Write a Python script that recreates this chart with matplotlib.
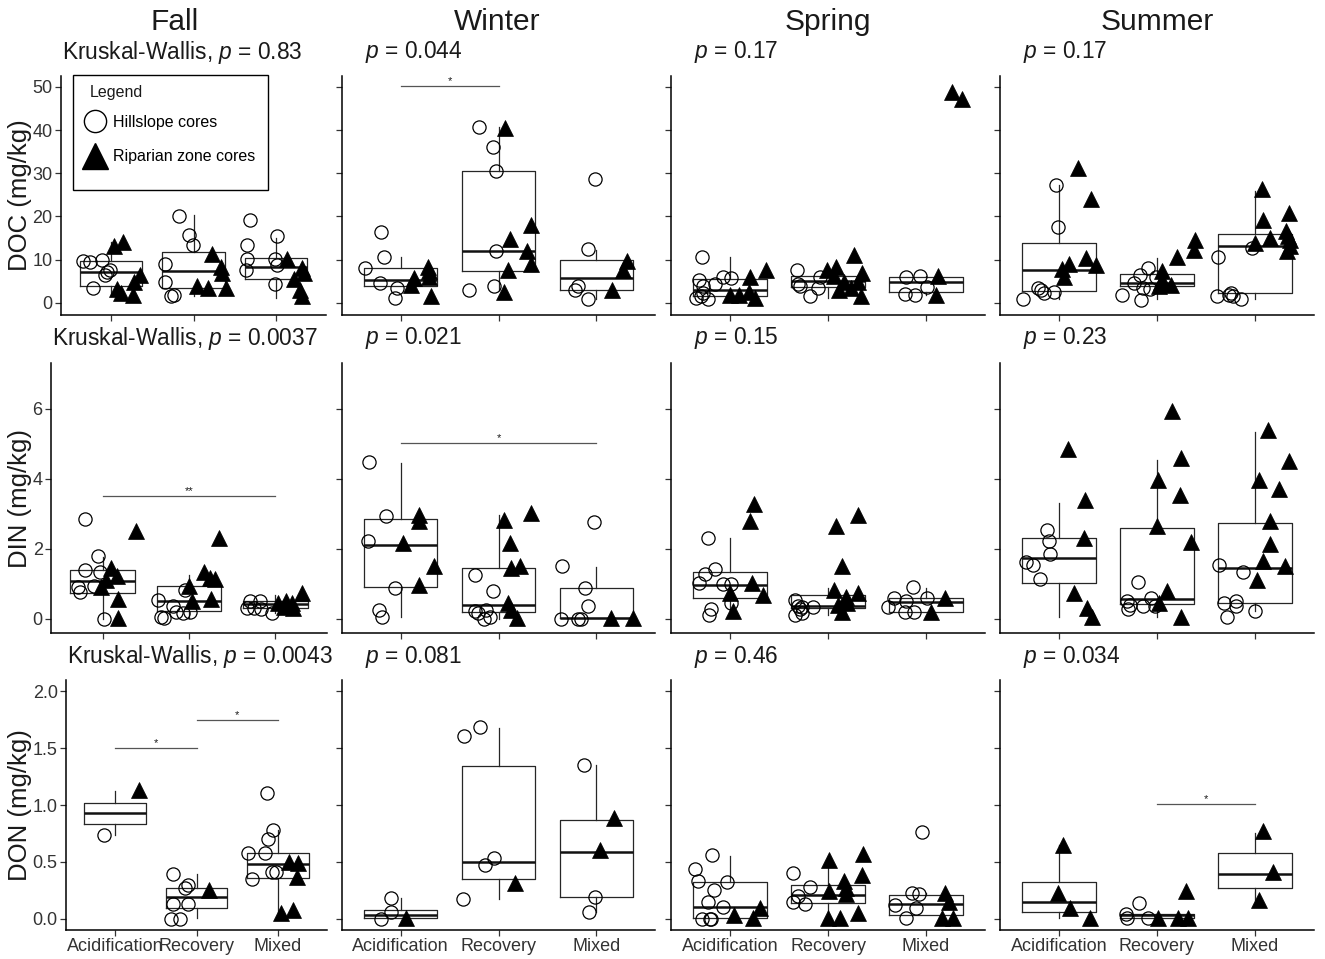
import matplotlib
matplotlib.use("Agg")
import matplotlib.pyplot as plt
from matplotlib.lines import Line2D
from matplotlib.patches import Rectangle

plt.rcParams['font.family'] = ['Liberation Sans', 'DejaVu Sans']
plt.rcParams['mathtext.fontset'] = 'custom'
plt.rcParams['mathtext.rm'] = 'Liberation Sans'
plt.rcParams['mathtext.it'] = 'Liberation Sans:italic'

# ---------------- data ----------------
seasons = ["Fall", "Winter", "Spring", "Summer"]
variables = ["DOC", "DIN", "DON"]
categories = ["Acidification", "Recovery", "Mixed"]

p_doc = ["0.83", "0.044", "0.17", "0.17"]
p_din = ["0.0037", "0.021", "0.15", "0.23"]
p_don = ["0.0043", "0.081", "0.46", "0.034"]

doc_ticks = [0, 10, 20, 30, 40, 50]
din_ticks = [0, 2, 4, 6]
don_ticks = [0.0, 0.5, 1.0, 1.5, 2.0]

# each panel: hillslope values / x-jitter, riparian values / x-jitter, box stats (whislo, q1, med, q3, whishi)
# ---- Fall DOC
fall_doc_hill = [[9.8, 9.4, 10.0, 7.6, 6.5, 7.1, 3.4],
                 [20.2, 15.6, 13.4, 9.0, 4.9, 1.6, 1.9],
                 [19.1, 13.3, 10.2, 7.6, 15.5, 10.2, 8.8, 4.4]]
fall_doc_hill_dx = [[-0.34, -0.25, -0.10, -0.01, -0.07, -0.04, -0.21],
                    [-0.17, -0.05, -0.01, -0.34, -0.34, -0.27, -0.23],
                    [-0.32, -0.35, -0.36, -0.37, 0.01, -0.01, 0.01, -0.02]]
fall_doc_rip = [[13.2, 14.2, 3.2, 2.2, 1.9, 4.9, 6.5],
                [11.3, 8.4, 6.9, 3.8, 3.5, 3.4],
                [10.2, 5.5, 8.0, 6.9, 3.0, 1.5]]
fall_doc_rip_dx = [[0.04, 0.15, 0.08, 0.12, 0.27, 0.28, 0.35],
                   [0.22, 0.33, 0.35, 0.04, 0.18, 0.39],
                   [0.13, 0.21, 0.31, 0.33, 0.29, 0.31]]
fall_doc_box = [(1.6, 3.9, 7.1, 9.6, 14.0), (1.6, 3.5, 7.3, 11.7, 20.4), (1.1, 5.5, 8.3, 10.3, 15.0)]
fall_doc_sig = []

# ---- Winter DOC
winter_doc_hill = [[16.3, 10.7, 8.0, 4.6, 3.5, 1.1],
                   [40.8, 36.0, 30.6, 12.1, 4.0, 2.9],
                   [28.7, 12.4, 4.0, 3.0, 0.8]]
winter_doc_hill_dx = [[-0.20, -0.17, -0.36, -0.21, -0.04, -0.06],
                      [-0.20, -0.06, -0.03, -0.03, -0.05, -0.30],
                      [-0.01, -0.08, -0.19, -0.22, -0.08]]
winter_doc_rip = [[8.4, 7.3, 6.1, 5.7, 4.2, 1.5],
                  [40.4, 18.1, 14.7, 11.9, 9.0, 7.5, 2.5],
                  [9.6, 7.6, 3.0]]
winter_doc_rip_dx = [[0.28, 0.29, 0.29, 0.14, 0.11, 0.31],
                     [0.07, 0.33, 0.12, 0.29, 0.33, 0.10, 0.06],
                     [0.31, 0.27, 0.16]]
winter_doc_box = [(3.8, 3.8, 5.3, 8.0, 10.7), (3.0, 7.3, 12.1, 30.6, 40.8), (0.8, 3.0, 5.7, 10.0, 12.3)]
winter_doc_sig = [(1, 2, 50.1, "*")]

# ---- Spring DOC
spring_doc_hill = [[10.6, 5.2, 3.8, 4.4, 5.9, 5.7, 1.1, 1.6, 0.8, 2.2],
                   [7.6, 4.4, 3.9, 1.5, 3.4, 5.9],
                   [6.1, 6.3, 3.6, 2.0, 1.9]]
spring_doc_hill_dx = [[-0.28, -0.31, -0.27, -0.15, -0.07, 0.01, -0.35, -0.29, -0.22, -0.27],
                      [-0.32, -0.31, -0.29, -0.18, -0.10, -0.08],
                      [-0.21, -0.06, 0.01, -0.22, -0.11]]
spring_doc_rip = [[5.9, 7.5, 1.9, 1.9, 2.5, 1.1],
                  [11.1, 7.5, 8.4, 6.3, 6.9, 4.9, 4.9, 2.9, 3.4, 1.5],
                  [6.3, 1.9, 48.7, 47.1]]
spring_doc_rip_dx = [[0.21, 0.37, 0.0, 0.09, 0.19, 0.26],
                     [0.26, -0.01, 0.08, 0.06, 0.35, 0.16, 0.31, 0.11, 0.23, 0.34],
                     [0.12, 0.10, 0.26, 0.37]]
spring_doc_box = [(0.8, 1.6, 3.0, 5.6, 10.6), (1.1, 3.6, 5.1, 6.3, 8.4), (1.9, 2.5, 4.9, 6.1, 6.3)]
spring_doc_sig = []

# ---- Summer DOC
summer_doc_hill = [[27.3, 17.5, 0.9, 3.4, 3.0, 2.2, 2.5],
                   [1.9, 4.7, 6.5, 8.0, 0.7, 3.4, 3.2, 6.1],
                   [10.6, 12.8, 1.6, 1.9, 2.2, 1.5, 0.8]]
summer_doc_hill_dx = [[-0.03, -0.01, -0.37, -0.21, -0.18, -0.15, -0.05],
                      [-0.36, -0.23, -0.17, -0.09, -0.16, -0.14, -0.07, -0.01],
                      [-0.38, -0.03, -0.39, -0.27, -0.25, -0.23, -0.14]]
summer_doc_rip = [[31.2, 24.0, 10.3, 8.8, 9.0, 7.8, 6.1],
                  [14.6, 12.3, 10.7, 7.3, 4.9, 4.4, 4.2, 3.8],
                  [26.3, 19.2, 20.9, 16.7, 15.0, 13.8, 15.4, 14.6, 13.2, 11.9]]
summer_doc_rip_dx = [[0.19, 0.33, 0.28, 0.38, 0.10, 0.03, 0.05],
                     [0.39, 0.38, 0.20, 0.05, 0.04, 0.07, 0.14, 0.02],
                     [0.07, 0.08, 0.35, 0.31, 0.15, 0.0, 0.33, 0.36, 0.36, 0.32]]
summer_doc_box = [(0.9, 2.8, 7.5, 13.8, 27.3), (0.8, 3.8, 4.7, 6.7, 10.3), (0.8, 2.4, 13.2, 15.9, 25.8)]
summer_doc_sig = []

# ---- Fall DIN
fall_din_hill = [[2.85, 1.80, 1.40, 1.35, 0.90, 0.78, 0.94, 0.0],
                 [0.54, 0.07, 0.04, 0.37, 0.21, 0.18, 0.21, 0.83],
                 [0.32, 0.52, 0.30, 0.52, 0.28, 0.16]]
fall_din_hill_dx = [[-0.21, -0.05, -0.21, -0.03, -0.29, -0.26, -0.10, 0.01],
                    [-0.36, -0.32, -0.29, -0.19, -0.15, -0.07, 0.01, -0.05],
                    [-0.33, -0.29, -0.25, -0.18, -0.16, -0.04]]
fall_din_rip = [[2.52, 1.45, 1.23, 1.11, 0.90, 0.56, 0.02],
                [2.32, 1.35, 1.16, 1.13, 0.94, 0.52, 0.56],
                [0.47, 0.52, 0.45, 0.30, 0.73, 0.35]]
fall_din_rip_dx = [[0.38, 0.10, 0.17, 0.04, -0.02, 0.18, 0.18],
                   [0.35, 0.17, 0.24, 0.30, 0.0, 0.04, 0.26],
                   [0.03, 0.12, 0.19, 0.21, 0.31, 0.10]]
fall_din_box = [(0.0, 0.73, 1.09, 1.40, 1.78), (0.04, 0.23, 0.50, 0.94, 1.26), (0.16, 0.32, 0.42, 0.50, 0.69)]
fall_din_sig = [(1, 3, 3.5, "**")]

# ---- Winter DIN
winter_din_hill = [[4.47, 2.94, 2.23, 0.88, 0.26, 0.07],
                   [1.26, 0.80, 0.23, 0.16, 0.26, 0.0, 0.07],
                   [2.78, 1.50, 0.88, 0.37, 0.0, 0.0, 0.0]]
winter_din_hill_dx = [[-0.32, -0.15, -0.33, -0.06, -0.22, -0.19],
                      [-0.24, -0.06, -0.24, -0.21, -0.13, -0.15, -0.09],
                      [-0.02, -0.35, -0.12, -0.08, -0.36, -0.19, -0.16]]
winter_din_rip = [[2.97, 2.81, 2.16, 1.50, 0.97],
                  [3.02, 2.83, 2.18, 1.45, 1.51, 0.45, 0.26, 0.02],
                  [0.02, 0.02]]
winter_din_rip_dx = [[0.19, 0.19, 0.02, 0.34, 0.19],
                     [0.33, 0.06, 0.12, 0.13, 0.22, 0.10, 0.13, 0.19],
                     [0.15, 0.37]]
winter_din_box = [(0.07, 0.90, 2.10, 2.85, 4.45), (0.0, 0.19, 0.40, 1.45, 2.97), (0.02, 0.02, 0.02, 0.88, 1.48)]
winter_din_sig = [(1, 3, 5.02, "*")]

# ---- Spring DIN
spring_din_hill = [[2.32, 1.42, 1.29, 1.04, 0.99, 0.99, 0.45, 0.28, 0.11],
                   [0.54, 0.37, 0.28, 0.35, 0.35, 0.11, 0.16],
                   [0.90, 0.59, 0.50, 0.59, 0.33, 0.21, 0.21]]
spring_din_hill_dx = [[-0.22, -0.15, -0.25, -0.31, -0.07, 0.01, 0.01, -0.19, -0.21],
                      [-0.34, -0.31, -0.29, -0.27, -0.15, -0.34, -0.27],
                      [-0.13, -0.33, -0.20, 0.01, -0.39, -0.22, -0.12]]
spring_din_rip = [[3.29, 2.81, 1.02, 0.75, 0.69, 0.24],
                  [2.97, 2.66, 1.50, 0.83, 0.75, 0.64, 0.45, 0.40, 0.21],
                  [0.59, 0.21]]
spring_din_rip_dx = [[0.25, 0.21, 0.23, 0.0, 0.34, 0.03],
                     [0.31, 0.08, 0.14, 0.06, 0.31, 0.18, 0.19, 0.10, 0.14],
                     [0.19, 0.05]]
spring_din_box = [(0.11, 0.59, 0.97, 1.35, 2.30), (0.11, 0.32, 0.37, 0.69, 0.88), (0.21, 0.21, 0.48, 0.59, 0.88)]
spring_din_sig = []

# ---- Summer DIN
summer_din_hill = [[2.54, 2.24, 1.86, 1.64, 1.54, 1.13],
                   [1.05, 0.50, 0.40, 0.28, 0.38, 0.59, 0.37],
                   [1.54, 1.35, 0.47, 0.52, 0.37, 0.07, 0.23]]
summer_din_hill_dx = [[-0.12, -0.10, -0.09, -0.33, -0.26, -0.19],
                      [-0.19, -0.31, -0.28, -0.30, -0.14, -0.06, -0.02],
                      [-0.37, -0.12, -0.32, -0.19, -0.19, -0.29, 0.0]]
summer_din_rip = [[4.85, 3.40, 2.32, 0.73, 0.30, 0.07],
                  [5.94, 4.59, 3.97, 3.54, 2.66, 2.21, 0.81, 0.47, 0.07],
                  [5.40, 4.51, 3.97, 3.70, 2.80, 2.14, 1.67, 1.51, 1.11]]
summer_din_rip_dx = [[0.09, 0.27, 0.26, 0.15, 0.29, 0.34],
                     [0.15, 0.24, 0.01, 0.23, 0.0, 0.35, 0.10, 0.02, 0.24],
                     [0.13, 0.35, 0.04, 0.24, 0.15, 0.15, 0.08, 0.30, 0.02]]
summer_din_box = [(0.07, 1.04, 1.73, 2.32, 3.32), (0.07, 0.43, 0.56, 2.61, 4.54), (0.23, 0.47, 1.47, 2.75, 5.35)]
summer_din_sig = []

# ---- Fall DON
fall_don_hill = [[0.74],
                 [0.39, 0.30, 0.27, 0.13, 0.13, 0.0, 0.0],
                 [1.11, 0.78, 0.70, 0.58, 0.58, 0.41, 0.41, 0.35]]
fall_don_hill_dx = [[-0.14],
                    [-0.29, -0.10, -0.14, -0.29, -0.10, -0.31, -0.20],
                    [-0.13, -0.06, -0.12, -0.16, -0.37, -0.07, -0.02, -0.32]]
fall_don_rip = [[1.13], [0.25], [0.50, 0.49, 0.37, 0.05, 0.08]]
fall_don_rip_dx = [[0.29], [0.15], [0.14, 0.25, 0.23, 0.03, 0.18]]
fall_don_box = [(0.74, 0.83, 0.93, 1.02, 1.12), (0.01, 0.09, 0.19, 0.27, 0.39), (0.05, 0.36, 0.48, 0.58, 0.78)]
fall_don_sig = [(1, 2, 1.50, "*"), (2, 3, 1.75, "*")]

# ---- Winter DON
winter_don_hill = [[0.18, 0.06, 0.0], [1.69, 1.61, 0.53, 0.47, 0.17], [1.35, 0.19, 0.06]]
winter_don_hill_dx = [[-0.10, -0.10, -0.20], [-0.19, -0.35, -0.05, -0.14, -0.36], [-0.13, -0.01, -0.07]]
winter_don_rip = [[0.01], [0.31], [0.89, 0.60]]
winter_don_rip_dx = [[0.05], [0.17], [0.18, 0.04]]
winter_don_box = [(0.01, 0.01, 0.03, 0.08, 0.18), (0.17, 0.35, 0.50, 1.34, 1.68), (0.06, 0.19, 0.59, 0.87, 1.35)]
winter_don_sig = []

# ---- Spring DON
spring_don_hill = [[0.56, 0.44, 0.33, 0.32, 0.25, 0.15, 0.10, 0.0, 0.0, 0.0],
                   [0.40, 0.28, 0.20, 0.15, 0.13],
                   [0.76, 0.23, 0.22, 0.12, 0.09, 0.01]]
spring_don_hill_dx = [[-0.18, -0.36, -0.32, -0.03, -0.16, -0.22, -0.07, -0.28, -0.20, -0.19],
                      [-0.36, -0.18, -0.31, -0.36, -0.23],
                      [-0.04, -0.14, -0.07, -0.32, -0.10, -0.20]]
spring_don_rip = [[0.09, 0.03, 0.01],
                  [0.57, 0.52, 0.38, 0.33, 0.27, 0.24, 0.22, 0.05, 0.01, 0.01],
                  [0.23, 0.15, 0.01, 0.01]]
spring_don_rip_dx = [[0.31, 0.04, 0.24],
                     [0.36, 0.01, 0.35, 0.16, 0.18, 0.01, 0.18, 0.31, 0.0, 0.12],
                     [0.19, 0.23, 0.16, 0.27]]
spring_don_box = [(0.01, 0.01, 0.10, 0.32, 0.55), (0.01, 0.14, 0.21, 0.30, 0.55), (0.03, 0.03, 0.13, 0.21, 0.23)]
spring_don_sig = []

# ---- Summer DON
summer_don_hill = [[], [0.14, 0.04, 0.01, 0.01], []]
summer_don_hill_dx = [[], [-0.18, -0.32, -0.31, -0.09], []]
summer_don_rip = [[0.65, 0.23, 0.09, 0.01], [0.24, 0.01, 0.01, 0.01], [0.77, 0.41, 0.16]]
summer_don_rip_dx = [[0.04, -0.01, 0.11, 0.32], [0.30, 0.01, 0.21, 0.32], [0.08, 0.18, 0.04]]
summer_don_box = [(0.01, 0.06, 0.15, 0.32, 0.65), (0.01, 0.01, 0.03, 0.04, 0.04), (0.16, 0.27, 0.39, 0.58, 0.75)]
summer_don_sig = [(2, 3, 1.01, "*")]

panels = {
    ("DOC", "Fall"): (fall_doc_hill, fall_doc_hill_dx, fall_doc_rip, fall_doc_rip_dx, fall_doc_box, fall_doc_sig),
    ("DOC", "Winter"): (winter_doc_hill, winter_doc_hill_dx, winter_doc_rip, winter_doc_rip_dx, winter_doc_box, winter_doc_sig),
    ("DOC", "Spring"): (spring_doc_hill, spring_doc_hill_dx, spring_doc_rip, spring_doc_rip_dx, spring_doc_box, spring_doc_sig),
    ("DOC", "Summer"): (summer_doc_hill, summer_doc_hill_dx, summer_doc_rip, summer_doc_rip_dx, summer_doc_box, summer_doc_sig),
    ("DIN", "Fall"): (fall_din_hill, fall_din_hill_dx, fall_din_rip, fall_din_rip_dx, fall_din_box, fall_din_sig),
    ("DIN", "Winter"): (winter_din_hill, winter_din_hill_dx, winter_din_rip, winter_din_rip_dx, winter_din_box, winter_din_sig),
    ("DIN", "Spring"): (spring_din_hill, spring_din_hill_dx, spring_din_rip, spring_din_rip_dx, spring_din_box, spring_din_sig),
    ("DIN", "Summer"): (summer_din_hill, summer_din_hill_dx, summer_din_rip, summer_din_rip_dx, summer_din_box, summer_din_sig),
    ("DON", "Fall"): (fall_don_hill, fall_don_hill_dx, fall_don_rip, fall_don_rip_dx, fall_don_box, fall_don_sig),
    ("DON", "Winter"): (winter_don_hill, winter_don_hill_dx, winter_don_rip, winter_don_rip_dx, winter_don_box, winter_don_sig),
    ("DON", "Spring"): (spring_don_hill, spring_don_hill_dx, spring_don_rip, spring_don_rip_dx, spring_don_box, spring_don_sig),
    ("DON", "Summer"): (summer_don_hill, summer_don_hill_dx, summer_don_rip, summer_don_rip_dx, summer_don_box, summer_don_sig),
}
pvals = {"DOC": p_doc, "DIN": p_din, "DON": p_don}
yticks = {"DOC": doc_ticks, "DIN": din_ticks, "DON": don_ticks}

# ---------------- layout (pixels) ----------------
W, H = 1325, 959
fig = plt.figure(figsize=(W / 100, H / 100), dpi=100)

row_y = {"DOC": (76, 315), "DIN": (363, 633), "DON": (680, 930)}
ylims = {"DOC": (-2.8, 52.5), "DIN": (-0.4, 7.31), "DON": (-0.1, 2.1)}
col_x = [(61, 326), (342, 655), (671, 985), (1000, 1314)]
col1_x = {"DOC": (61, 326), "DIN": (51, 327), "DON": (66, 327)}
sub_y = {"DOC": 52, "DIN": 338, "DON": 657}
ylabel_y = {"DOC": 195, "DIN": 498, "DON": 805}
title_x = [175, 497, 828, 1157]

TXT = "#1a1a1a"
for r, var in enumerate(variables):
    for c, season in enumerate(seasons):
        x0, x1 = col1_x[var] if c == 0 else col_x[c]
        y0, y1 = row_y[var]
        ax = fig.add_axes([x0 / W, 1 - y1 / H, (x1 - x0) / W, (y1 - y0) / H])
        hill, hill_dx, rip, rip_dx, box, sig = panels[(var, season)]

        stats = [dict(whislo=b[0], q1=b[1], med=b[2], q3=b[3], whishi=b[4], fliers=[]) for b in box]
        ax.bxp(stats, positions=[1, 2, 3], widths=0.75, showfliers=False, showcaps=False,
               patch_artist=False, manage_ticks=False,
               boxprops=dict(color="#262626", lw=0.9),
               whiskerprops=dict(color="#262626", lw=0.9),
               medianprops=dict(color="#111111", lw=1.8, solid_capstyle="butt"))
        for k in range(3):
            if hill[k]:
                ax.plot([k + 1 + d for d in hill_dx[k]], hill[k], linestyle="none", marker="o",
                        ms=9.5, mfc="none", mec="black", mew=0.9, zorder=3)
            if rip[k]:
                ax.plot([k + 1 + d for d in rip_dx[k]], rip[k], linestyle="none", marker="^",
                        ms=11, mfc="black", mec="black", mew=0.5, zorder=3)
        for (a, b, yv, lab) in sig:
            ax.plot([a, b], [yv, yv], color="#555555", lw=0.9, zorder=2)
            ax.text((a + b) / 2, yv, lab, ha="center", va="bottom", fontsize=8, color=TXT)

        ax.set_xlim(0.4, 3.6)
        ax.set_ylim(*ylims[var])
        ax.set_xticks([1, 2, 3])
        ax.set_yticks(yticks[var])
        for s in ["top", "right"]:
            ax.spines[s].set_visible(False)
        for s in ["left", "bottom"]:
            ax.spines[s].set_linewidth(1.1)
            ax.spines[s].set_color("black")
        ax.tick_params(direction="out", length=4, width=0.9, color="#333333",
                       labelsize=13, labelcolor="#333333", pad=2)
        if c == 0:
            if var == "DON":
                ax.set_yticklabels([f"{t:.1f}" for t in don_ticks])
            else:
                ax.set_yticklabels([str(t) for t in yticks[var]])
        else:
            ax.tick_params(labelleft=False)
        if var == "DON":
            ax.set_xticklabels(categories, fontsize=13)
        else:
            ax.tick_params(labelbottom=False)

        # subtitle
        pv = pvals[var][c]
        if c == 0:
            s = "Kruskal-Wallis, $p$ = " + pv
            sx = x0 + 1
        else:
            s = "$p$ = " + pv
            sx = x0 + 23
        fig.text(sx / W, 1 - sub_y[var] / H, s, ha="left", va="center", fontsize=16.4, color=TXT)

        if var == "DOC" and season == "Fall":
            handles = [Line2D([], [], linestyle="none", marker="o", ms=16, mfc="none", mec="black", mew=1.0),
                       Line2D([], [], linestyle="none", marker="^", ms=19, mfc="black", mec="black")]
            leg = ax.legend(handles, ["Hillslope cores", "Riparian zone cores"],
                            loc="center left", bbox_to_anchor=(84 / W, 1 - 139.5 / H),
                            bbox_transform=fig.transFigure, frameon=False,
                            fontsize=11.5, borderpad=0, labelspacing=1.24,
                            handletextpad=0.4, handlelength=1.4, borderaxespad=0)
            fig.text(90 / W, 1 - 92 / H, "Legend", ha="left", va="center", fontsize=11.5, color=TXT)
            fig.patches.append(Rectangle((73 / W, 1 - 190 / H), 195 / W, 115 / H, fill=False,
                                         edgecolor="black", lw=1.0, transform=fig.transFigure,
                                         figure=fig, zorder=5))

    fig.text(20 / W, 1 - ylabel_y[var] / H, f"{var} (mg/kg)", rotation=90, ha="center", va="center",
             fontsize=18.5, color=TXT)

for c, season in enumerate(seasons):
    fig.text(title_x[c] / W, 1 - 22 / H, season, ha="center", va="center", fontsize=21.5, color=TXT)

fig.savefig("out.png", dpi=100)
